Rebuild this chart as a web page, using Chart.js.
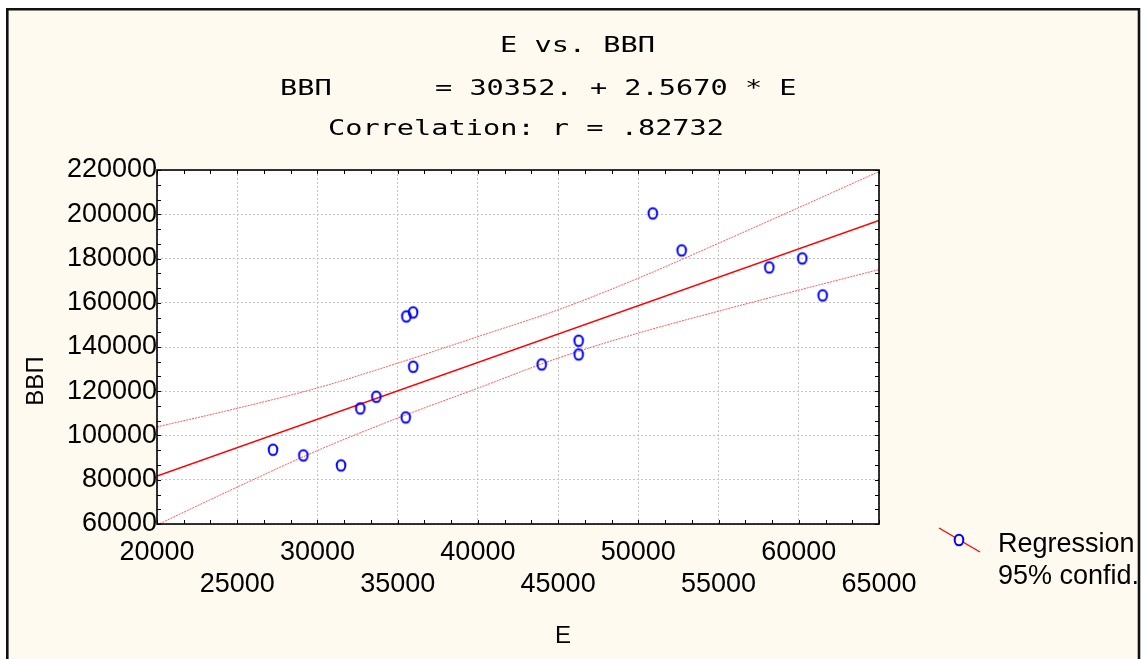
<!DOCTYPE html>
<html>
<head>
<meta charset="utf-8">
<script src="https://cdn.jsdelivr.net/npm/chart.js@4"></script>
<style>
  html, body { margin: 0; padding: 0; background: #ffffff; }
  #wrap { width: 1144px; height: 659px; }
</style>
</head>
<body>
<div id="wrap"><canvas id="chart" width="1144" height="659"></canvas></div>
<script>
// observed points: E vs ВВП
const pointE   = [27230, 29120, 31470, 32670, 33670, 35500, 35540, 35960, 35970, 43980, 46280, 46280, 50900, 52700, 58160, 60220, 61490];
const pointGDP = [93580, 91000, 86490, 112250, 117540, 108180, 153830, 155640, 131100, 132140, 142850, 136650, 200380, 183660, 175980, 180040, 163320];

// fitted line ends (ВВП = 30352 + 2.567 * E)
const lineE   = [20000, 65000];
const lineGDP = [81700, 197200];

// 95% confidence band
const bandE     = [20000, 25000, 30000, 35000, 40000, 45000, 50000, 55000, 60000, 65000];
const bandUpper = [103900, 112300, 121500, 132700, 144700, 156800, 171100, 186900, 203000, 219300];
const bandLower = [59600, 76700, 93200, 107900, 121400, 135000, 146300, 156200, 165700, 175000];

// axes
const xMin = 20000, xMax = 65000, xStep = 5000;
const yMin = 60000, yMax = 220000, yStep = 20000;

const titleLines = ['E vs. ВВП', 'ВВП      = 30352. + 2.5670 * E', 'Correlation: r = .82732'];
const legendLabels = ['Regression', '95% confid.'];

const cream = '#fefaef';
const sans = '"Liberation Sans", Arial, sans-serif';

function toXY(xs, ys){ return xs.map((x,i)=>({x, y: ys[i]})); }

// hollow, slightly tall ellipse marker
function makeMarker(fill){
    const c = document.createElement('canvas');
    c.width = 14; c.height = 16;
    const g = c.getContext('2d');
    g.beginPath();
    g.ellipse(7, 8, 4.3, 5.3, 0, 0, Math.PI*2);
    if(fill){ g.fillStyle = fill; g.fill(); }
    g.lineWidth = 2;
    g.strokeStyle = '#0000ff';
    g.stroke();
    return c;
}
const marker = makeMarker(null);
const legendMarker = makeMarker(cream);

const decor = {
    id: 'decor',
    beforeDraw(chart){
        const ctx = chart.ctx, a = chart.chartArea;
        ctx.save();
        ctx.fillStyle = '#ffffff';
        ctx.fillRect(0, 0, chart.width, chart.height);
        ctx.fillStyle = cream;
        ctx.fillRect(7, 9, 1132, chart.height);
        ctx.fillStyle = '#ffffff';
        ctx.fillRect(a.left, a.top, a.right-a.left, a.bottom-a.top);
        ctx.restore();
    },
    afterDraw(chart){
        const ctx = chart.ctx, a = chart.chartArea;
        const xs = chart.scales.x, ys = chart.scales.y;
        ctx.save();

        // small inward ticks, three per grid step
        ctx.strokeStyle = '#000';
        ctx.lineWidth = 1;
        ctx.beginPath();
        for(let v = xMin; v <= xMax + 1; v += xStep/3){
            const px = Math.round(xs.getPixelForValue(v)) + 0.5;
            ctx.moveTo(px, a.bottom); ctx.lineTo(px, a.bottom - 4);
            ctx.moveTo(px, a.top);    ctx.lineTo(px, a.top + 4);
        }
        for(let v = yMin; v <= yMax + 1; v += yStep/3){
            const py = Math.round(ys.getPixelForValue(v)) + 0.5;
            ctx.moveTo(a.left, py);  ctx.lineTo(a.left + 4, py);
            ctx.moveTo(a.right, py); ctx.lineTo(a.right - 4, py);
        }
        ctx.stroke();

        // plot box
        ctx.lineWidth = 1.6;
        ctx.strokeRect(a.left, a.top, a.right-a.left, a.bottom-a.top);

        // title lines: wide monospaced look
        ctx.fillStyle = '#000';
        ctx.font = '22px "DejaVu Sans Mono", monospace';
        ctx.textAlign = 'left';
        ctx.textBaseline = 'alphabetic';
        ctx.save();
        const sx = 1.3;
        ctx.scale(sx, 1);
        ctx.fillText(titleLines[0], 500/sx, 52);
        ctx.fillText(titleLines[1], 280/sx, 95);
        ctx.fillText(titleLines[2], 328/sx, 135);
        ctx.restore();

        // axis titles
        ctx.font = '24px ' + sans;
        ctx.textAlign = 'center';
        ctx.fillText('E', 563, 643);
        ctx.save();
        ctx.translate(43, 381);
        ctx.rotate(-Math.PI/2);
        ctx.fillText('ВВП', 0, 0);
        ctx.restore();

        // legend
        ctx.strokeStyle = '#ff0000';
        ctx.lineWidth = 1.3;
        ctx.beginPath();
        ctx.moveTo(939, 528); ctx.lineTo(980, 552);
        ctx.stroke();
        ctx.drawImage(legendMarker, 959 - 7, 540 - 8);
        ctx.font = '27px ' + sans;
        ctx.textAlign = 'left';
        ctx.fillText(legendLabels[0], 998, 552);
        ctx.fillText(legendLabels[1], 998, 584);

        // outer frame
        ctx.strokeStyle = '#111';
        ctx.lineWidth = 2.6;
        ctx.beginPath();
        ctx.moveTo(7.3, 659); ctx.lineTo(7.3, 9.3); ctx.lineTo(1139, 9.3); ctx.lineTo(1139, 659);
        ctx.stroke();
        ctx.restore();
    }
};

const tickFont = { family: sans, size: 27, lineHeight: 1.21 };

new Chart(document.getElementById('chart'), {
    type: 'scatter',
    data: {
        datasets: [
            {
                label: 'points',
                data: toXY(pointE, pointGDP),
                pointStyle: marker,
                pointRadius: 5,
                showLine: false
            },
            {
                label: 'Regression',
                data: toXY(lineE, lineGDP),
                showLine: true,
                borderColor: '#ff0000',
                borderWidth: 1.5,
                pointRadius: 0
            },
            {
                label: 'upper',
                data: toXY(bandE, bandUpper),
                showLine: true,
                borderColor: '#ff5a5a',
                borderWidth: 1,
                borderDash: [2, 1],
                cubicInterpolationMode: 'monotone',
                pointRadius: 0
            },
            {
                label: 'lower',
                data: toXY(bandE, bandLower),
                showLine: true,
                borderColor: '#ff5a5a',
                borderWidth: 1,
                borderDash: [2, 1],
                cubicInterpolationMode: 'monotone',
                pointRadius: 0
            }
        ]
    },
    options: {
        responsive: false,
        animation: false,
        events: [],
        layout: { padding: { left: 0, top: 170, right: 265, bottom: 0 } },
        plugins: {
            legend: { display: false },
            title: { display: false },
            tooltip: { enabled: false }
        },
        scales: {
            x: {
                type: 'linear',
                min: xMin, max: xMax,
                afterFit: s => { s.height = 135; },
                grid: { color: '#c4c4c4', lineWidth: 1, drawTicks: false },
                border: { display: false, dash: [2, 2] },
                ticks: {
                    stepSize: xStep,
                    autoSkip: false,
                    maxRotation: 0,
                    padding: 12,
                    color: '#000',
                    font: tickFont,
                    callback: v => (v / xStep) % 2 === 0 ? String(v) : ['', String(v)]
                }
            },
            y: {
                type: 'linear',
                min: yMin, max: yMax,
                afterFit: s => { s.width = 157; },
                grid: { color: '#c4c4c4', lineWidth: 1, drawTicks: false },
                border: { display: false, dash: [2, 2] },
                ticks: {
                    stepSize: yStep,
                    padding: 0,
                    color: '#000',
                    font: tickFont,
                    callback: v => String(v)
                }
            }
        }
    },
    plugins: [decor]
});
</script>
</body>
</html>
